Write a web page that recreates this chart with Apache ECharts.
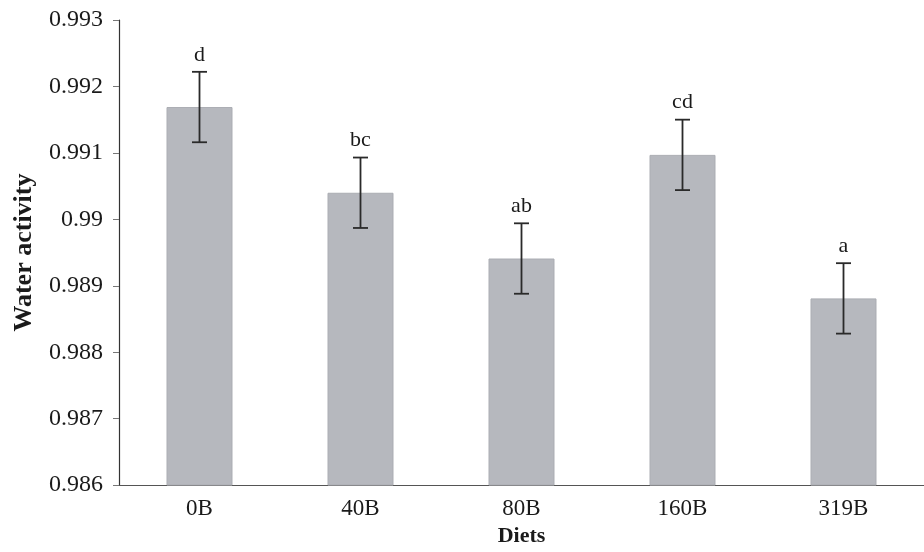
<!DOCTYPE html>
<html>
<head>
<meta charset="utf-8">
<script src="https://cdn.jsdelivr.net/npm/echarts@6/dist/echarts.min.js"></script>
<style>html,body{margin:0;padding:0;background:#fff;}#c{width:924px;height:552px;}</style>
</head>
<body>
<div id="c"></div>
<script>
const categories = ['0B', '40B', '80B', '160B', '319B'];
const means = [0.99169, 0.9904, 0.98941, 0.99097, 0.98881];
const errors = [0.00053, 0.00053, 0.00053, 0.00053, 0.00053];
const letters = ['d', 'bc', 'ab', 'cd', 'a'];
const yTickLabels = ['0.986', '0.987', '0.988', '0.989', '0.99', '0.991', '0.992', '0.993'];
const yMin = 0.986, yMax = 0.993, yStep = 0.001;

const serif = '"Liberation Serif", "DejaVu Serif", serif';
const chart = echarts.init(document.getElementById('c'), null, {renderer: 'canvas'});

const errData = categories.map((c, i) => [i, means[i], errors[i], letters[i]]);

chart.setOption({
  backgroundColor: '#ffffff',
  animation: false,
  grid: {left: 119, top: 20, width: 820, bottom: 66, containLabel: false},
  xAxis: {
    type: 'category',
    data: categories,
    name: 'Diets',
    nameLocation: 'middle',
    nameGap: 33,
    nameTextStyle: {fontFamily: serif, fontWeight: 'bold', fontSize: 22, color: '#1a1a1a'},
    axisLine: {lineStyle: {color: '#555', width: 1.2}},
    axisTick: {show: false},
    axisLabel: {fontFamily: serif, fontSize: 23, color: '#1a1a1a', margin: 12},
    splitLine: {show: false}
  },
  yAxis: {
    type: 'value',
    min: yMin,
    max: yMax,
    interval: yStep,
    name: 'Water activity',
    nameLocation: 'middle',
    nameGap: 82,
    nameTextStyle: {fontFamily: serif, fontWeight: 'bold', fontSize: 26, color: '#1a1a1a'},
    axisLine: {show: true, lineStyle: {color: '#333', width: 1.2}},
    axisTick: {show: true, length: 6, lineStyle: {color: '#777'}},
    axisLabel: {
      fontFamily: serif, fontSize: 24, color: '#1a1a1a', margin: 16,
      formatter: v => yTickLabels[Math.round((v - yMin) / yStep)]
    },
    splitLine: {show: false}
  },
  series: [
    {
      type: 'bar',
      data: means,
      barWidth: 66,
      itemStyle: {color: '#b6b8be', borderColor: '#abadb3', borderWidth: 1}
    },
    {
      type: 'custom',
      data: errData,
      z: 10,
      renderItem: function (params, api) {
        const x = api.value(0);
        const m = api.value(1);
        const e = api.value(2);
        const top = api.coord([x, m + e]);
        const bot = api.coord([x, m - e]);
        const hw = 7.5;
        const style = {stroke: '#2a2a2a', lineWidth: 1.8};
        return {
          type: 'group',
          children: [
            {type: 'line', shape: {x1: top[0], y1: top[1], x2: bot[0], y2: bot[1]}, style: style},
            {type: 'line', shape: {x1: top[0] - hw, y1: top[1], x2: top[0] + hw, y2: top[1]}, style: style},
            {type: 'line', shape: {x1: bot[0] - hw, y1: bot[1], x2: bot[0] + hw, y2: bot[1]}, style: style},
            {type: 'text', style: {
              text: letters[params.dataIndex], x: top[0], y: top[1] - 6,
              align: 'center', verticalAlign: 'bottom',
              font: '22px ' + serif, fill: '#1a1a1a'
            }}
          ]
        };
      }
    }
  ]
});
</script>
</body>
</html>
